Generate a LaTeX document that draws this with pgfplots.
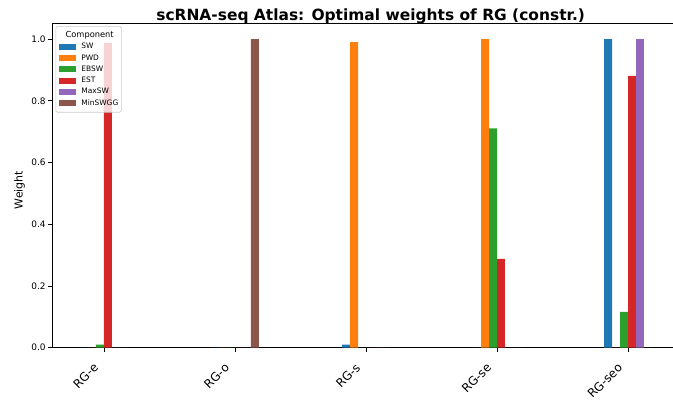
\documentclass[border=0pt]{standalone}
\usepackage{pgfplots}
\pgfplotsset{compat=1.18}
\usepackage{fontspec}
\setmainfont{DejaVu Sans}
\definecolor{cSW}{HTML}{1F77B4}
\definecolor{cPWD}{HTML}{FF7F0E}
\definecolor{cEBSW}{HTML}{2CA02C}
\definecolor{cEST}{HTML}{D62728}
\definecolor{cMax}{HTML}{9467BD}
\definecolor{cMin}{HTML}{8C564B}
\definecolor{legframe}{HTML}{CCCCCC}
\pgfplotsset{
  mybar/.style={ybar, bar width=0.061, bar shift=0pt, draw=none, fill=#1,
    legend image code/.code={\fill[fill=#1, fill opacity=1, draw=none, sharp corners] (0bp,-3bp) rectangle (17bp,3bp);
      \path (22.5bp,0bp);}},
}
\begin{document}
\begin{tikzpicture}
\begin{axis}[
  at={(0,0)}, anchor=south west,
  scale only axis, width=627.5bp, height=324bp,
  xmin=-0.39, xmax=4.40, ymin=0, ymax=1.05,
  xtick={0,1,2,3,4}, xticklabels={RG-e,RG-o,RG-s,RG-se,RG-seo},
  ytick={0,0.2,0.4,0.6,0.8,1.0},
  yticklabel={\pgfmathprintnumber[fixed,fixed zerofill,precision=1,assume math mode=true]{\tick}},
  tick pos=left, tick align=outside, major tick length=4.5bp,
  axis line style={line width=0.8bp, black},
  tick style={line width=0.8bp, black},
  yticklabel style={font=\fontsize{9}{10}\selectfont, anchor=east, inner sep=0pt, xshift=-2.5bp},
  xticklabel style={font=\fontsize{12}{14}\selectfont, rotate=45, anchor=north east, inner sep=0pt, xshift=-15bp, yshift=1bp},
  ylabel={Weight},
  ylabel style={font=\fontsize{11}{13}\selectfont, at={(axis description cs:-0.053,0.487)}, anchor=center},
  every axis title shift=0pt,
  title={scRNA-seq Atlas: Optimal weights of RG (constr.)},
  title style={font=\fontsize{15.5}{18}\selectfont\bfseries, at={(axis description cs:0.5,1)}, anchor=base, yshift=3bp, xshift=4bp},
  legend style={at={(axis description cs:0.0042,0.9925)}, anchor=north west,
    fill=white, fill opacity=0.8, text opacity=1, draw=legframe, draw opacity=1,
    rounded corners=1.5bp, line width=0.6bp,
    font=\fontsize{7.5}{8}\selectfont, row sep=4.3bp, inner xsep=3bp, inner ysep=5.5bp,
    nodes={inner sep=0pt, text height=5.5bp, text depth=1.5bp, anchor=west}},
  legend cell align=left,
]
\addlegendimage{empty legend}
\addlegendentry{\hspace*{-15.7bp}\fontsize{8.3}{9}\selectfont Component}
\addplot[mybar=cSW] coordinates {(-0.1525,0) (0.8475,0) (1.8475,0.01) (2.8475,0) (3.8475,1.0)};
\addlegendentry{SW}
\addplot[mybar=cPWD] coordinates {(-0.0915,0) (0.9085,0) (1.9085,0.99) (2.9085,1.0) (3.9085,0)};
\addlegendentry{PWD}
\addplot[mybar=cEBSW] coordinates {(-0.0305,0.01) (0.9695,0) (1.9695,0) (2.9695,0.711) (3.9695,0.116)};
\addlegendentry{EBSW}
\addplot[mybar=cEST] coordinates {(0.0305,0.988) (1.0305,0) (2.0305,0) (3.0305,0.288) (4.0305,0.881)};
\addlegendentry{EST}
\addplot[mybar=cMax] coordinates {(0.0915,0) (1.0915,0) (2.0915,0) (3.0915,0) (4.0915,1.0)};
\addlegendentry{MaxSW}
\addplot[mybar=cMin] coordinates {(0.1525,0) (1.1525,1.0) (2.1525,0) (3.1525,0) (4.1525,0)};
\addlegendentry{MinSWGG}
\end{axis}
\pgfresetboundingbox
\path[use as bounding box] (-52.9bp,-52.3bp) rectangle (620.1bp,347.7bp);
\end{tikzpicture}
\end{document}
